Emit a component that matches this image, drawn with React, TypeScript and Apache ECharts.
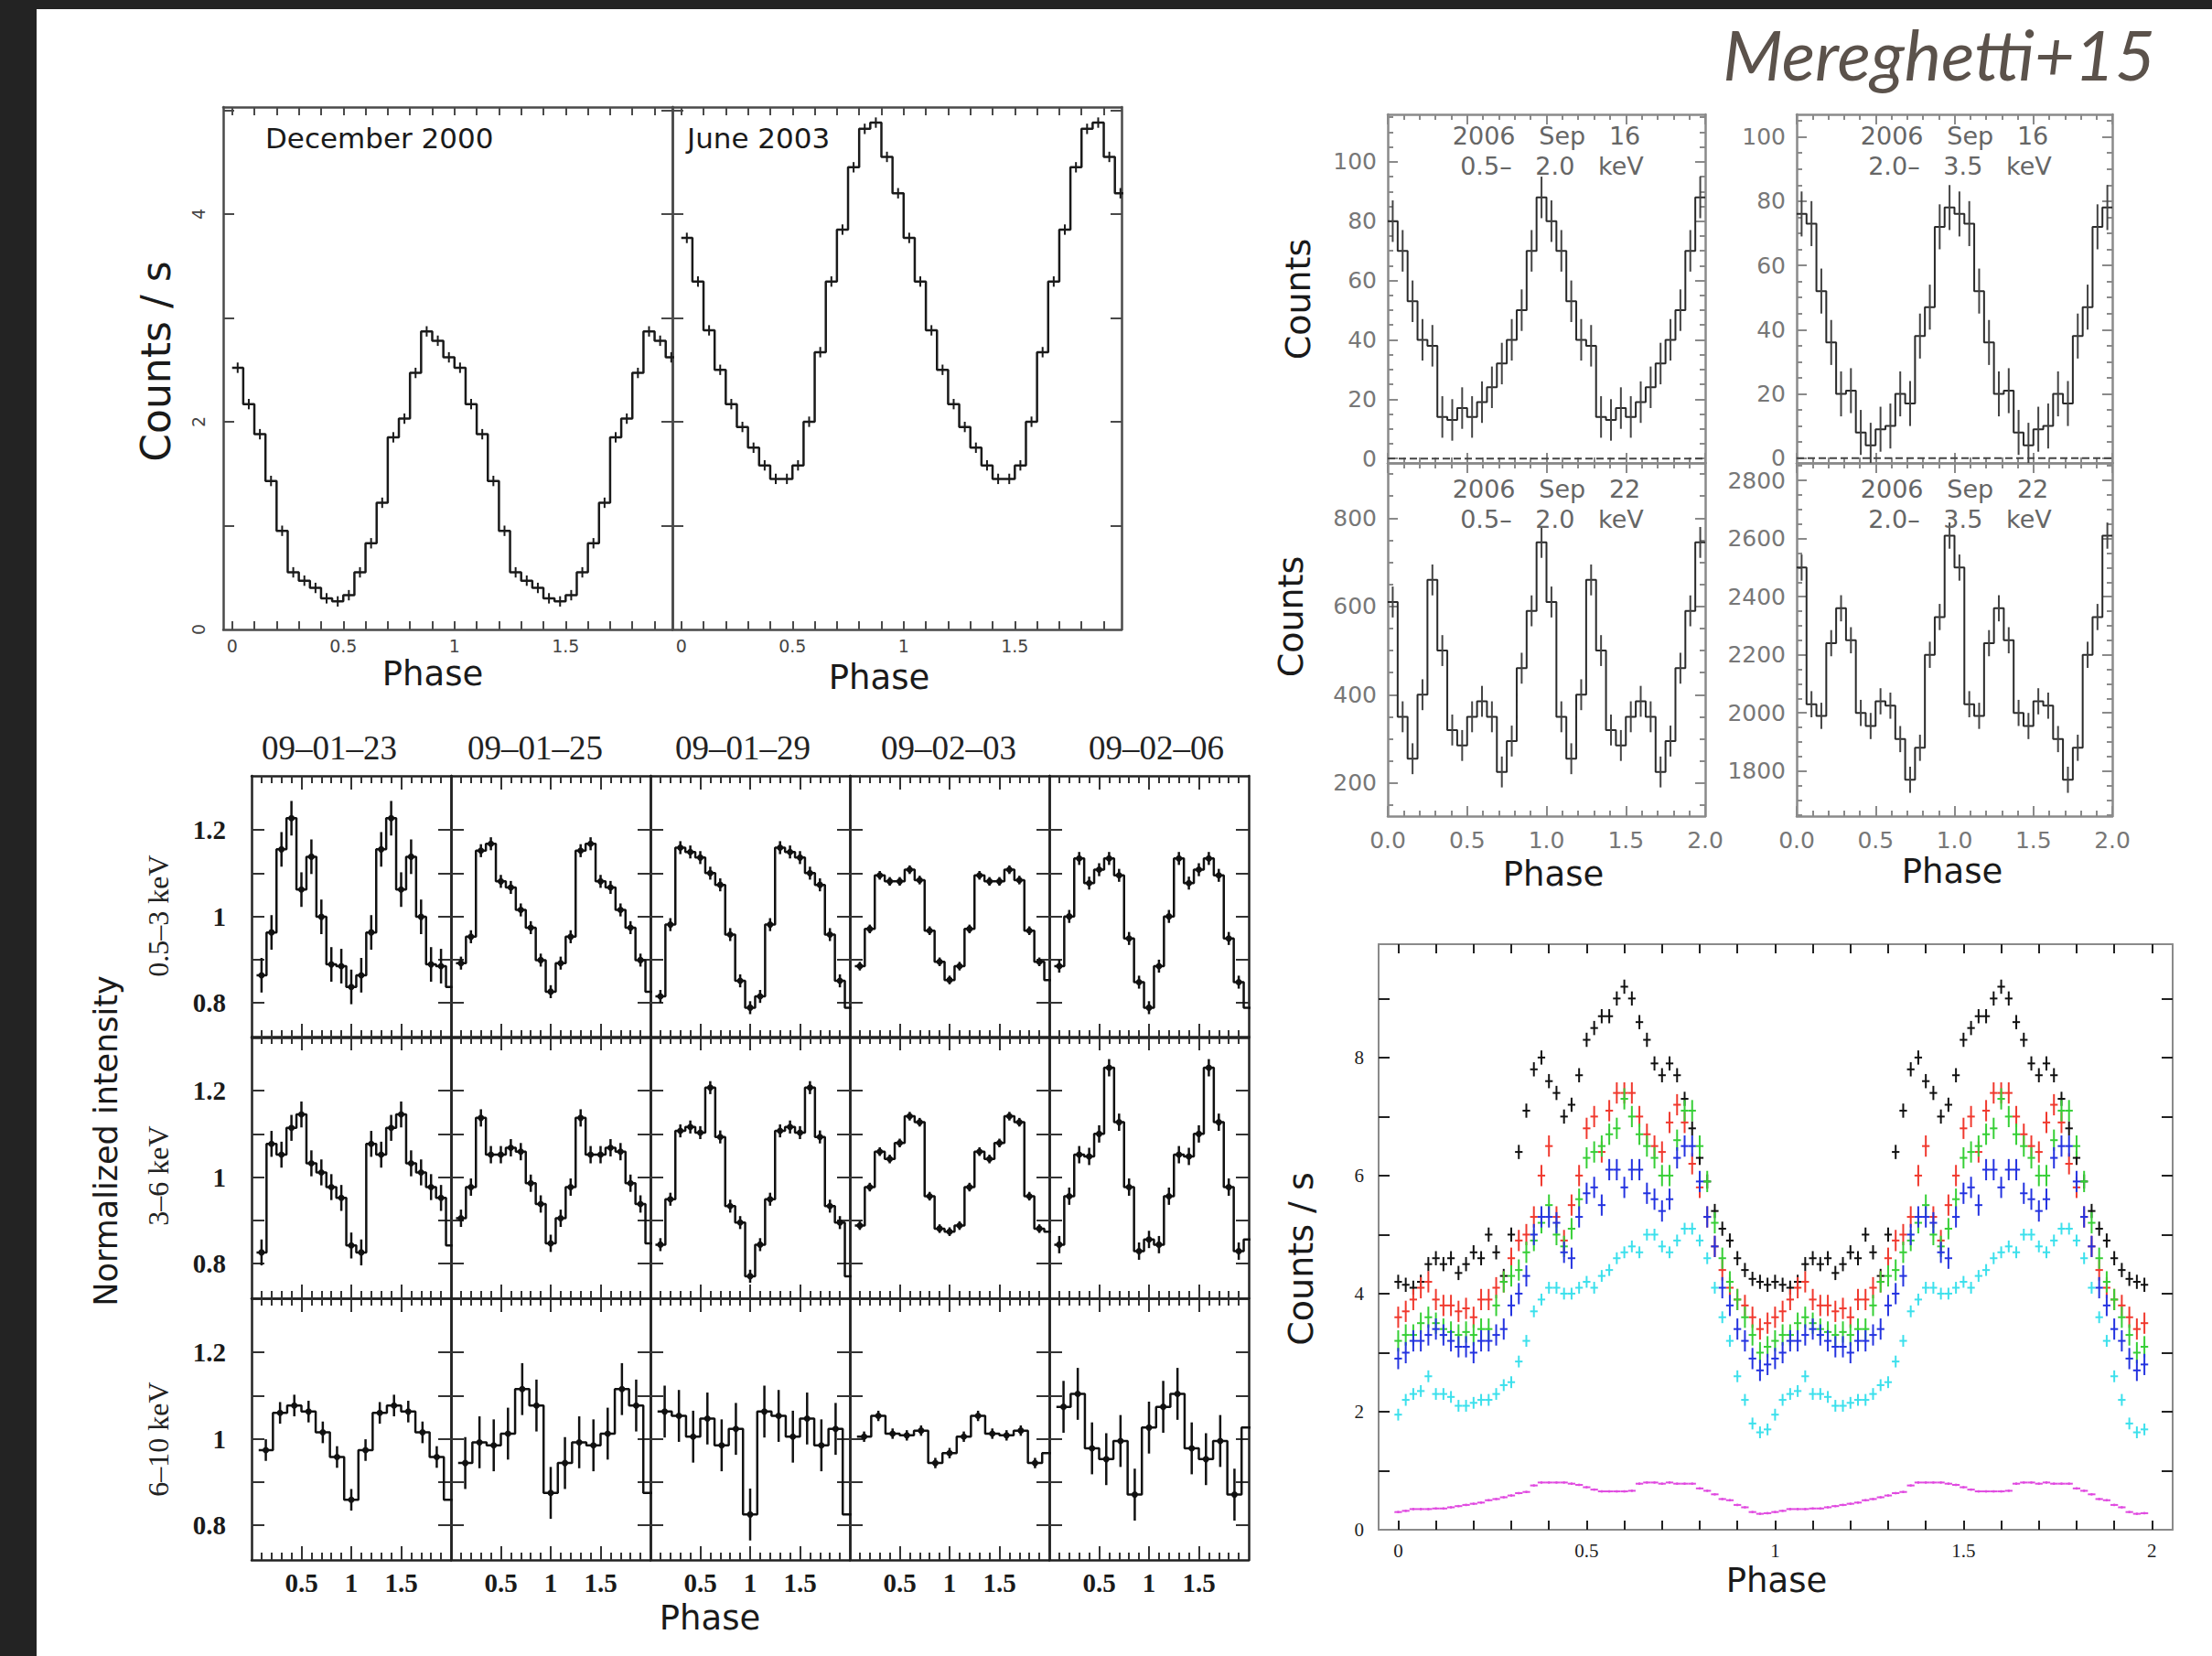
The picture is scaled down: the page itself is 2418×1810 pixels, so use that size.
import { useEffect, useRef } from 'react';
import * as echarts from 'echarts';

const W = 2418;
const H = 1810;

// ---------------- top-left: count rate, 20 phase bins per cycle (shown twice) ----------------
const dec2000Rate = [2.52, 2.17, 1.88, 1.43, 0.95, 0.55, 0.47, 0.40, 0.30, 0.27, 0.33, 0.55, 0.83, 1.22, 1.85, 2.03, 2.47, 2.87, 2.78, 2.62];
const jun2003Rate = [3.77, 3.35, 2.88, 2.50, 2.17, 1.95, 1.75, 1.58, 1.45, 1.45, 1.58, 2.00, 2.67, 3.35, 3.85, 4.45, 4.82, 4.88, 4.55, 4.20];
const topLeftErr = [0.05, 0.05];
const topLeftTitles = ['December 2000', 'June 2003'];
const topLeftPhaseLabels = [0, 0.5, 1, 1.5];
const topLeftRateLabels = [0, 2, 4];

// ---------------- top-right: counts, 16 phase bins per cycle ----------------
const sep16Soft = [80, 70, 53, 40, 38, 14, 13, 17, 14, 19, 24, 32, 40, 50, 70, 88];
const sep16Hard = [76, 73, 52, 36, 20, 21, 8, 4, 9, 10, 20, 17, 38, 47, 72, 78];
const sep22Soft = [610, 350, 255, 400, 660, 500, 320, 285, 350, 385, 350, 225, 295, 460, 590, 745];
const sep22Hard = [2500, 2030, 1990, 2240, 2360, 2250, 2000, 1955, 2040, 2025, 1910, 1770, 1880, 2200, 2330, 2610];
const topRightErr = [7, 7, 35, 45];
const topRightBackground = [0, 0];
const topRightTitles = [
  ['2006   Sep   16', '0.5–   2.0   keV'],
  ['2006   Sep   16', '2.0–   3.5   keV'],
  ['2006   Sep   22', '0.5–   2.0   keV'],
  ['2006   Sep   22', '2.0–   3.5   keV'],
];
const topRightPhaseLabels = [0, 0.5, 1, 1.5, 2];
const sep16SoftTicks = [0, 20, 40, 60, 80, 100];
const sep16HardTicks = [0, 20, 40, 60, 80, 100];
const sep22SoftTicks = [200, 400, 600, 800];
const sep22HardTicks = [1800, 2000, 2200, 2400, 2600, 2800];

// ---------------- bottom-left: normalized intensity ----------------
const gridDates = ['09–01–23', '09–01–25', '09–01–29', '09–02–03', '09–02–06'];
const gridBands = ['0.5–3 keV', '3–6 keV', '6–10 keV'];
// 0.5-3 keV, 10 bins per cycle (centres 0.1 ... 1.0)
const soft0123 = [0.864, 0.963, 1.155, 1.227, 1.062, 1.138, 0.999, 0.889, 0.885, 0.837];
const soft0125 = [0.892, 0.953, 1.152, 1.168, 1.081, 1.067, 1.015, 0.974, 0.899, 0.826];
const soft0129 = [0.815, 0.981, 1.159, 1.149, 1.136, 1.100, 1.073, 0.958, 0.851, 0.789];
const soft0203 = [0.885, 0.971, 1.095, 1.081, 1.081, 1.108, 1.084, 0.967, 0.895, 0.853];
const soft0206 = [0.885, 1.000, 1.134, 1.077, 1.108, 1.134, 1.095, 0.949, 0.848, 0.789];
// 3-6 keV, 10 bins per cycle
const mid0123 = [0.826, 1.077, 1.052, 1.114, 1.145, 1.032, 1.011, 0.977, 0.952, 0.842];
const mid0125 = [0.905, 0.977, 1.137, 1.052, 1.052, 1.068, 1.059, 0.986, 0.938, 0.847];
const mid0129 = [0.844, 0.949, 1.107, 1.116, 1.103, 1.207, 1.093, 0.933, 0.895, 0.771];
const mid0203 = [0.888, 0.977, 1.059, 1.042, 1.079, 1.141, 1.127, 0.956, 0.881, 0.874];
const mid0206 = [0.844, 0.956, 1.052, 1.048, 1.100, 1.253, 1.127, 0.977, 0.829, 0.856];
// 6-10 keV, 7 bins per cycle (centres 1/7 ... 1)
const hard0123 = [0.974, 1.060, 1.077, 1.063, 1.015, 0.958, 0.859];
const hard0125 = [0.944, 0.992, 0.985, 1.012, 1.115, 1.077, 0.875];
const hard0129 = [1.063, 1.053, 1.005, 1.047, 0.985, 1.023, 0.825];
const hard0203 = [1.005, 1.053, 1.012, 1.008, 1.019, 0.944, 0.967];
const hard0206 = [1.074, 1.104, 0.978, 0.953, 0.995, 0.871, 1.026];
const softErr = [0.04, 0.015, 0.015, 0.01, 0.015];
const midErr = [0.03, 0.02, 0.015, 0.01, 0.02];
const hardErr = [0.025, 0.06, 0.06, 0.012, 0.06];
const gridPhaseLabels = [0.5, 1, 1.5];
const gridIntensityLabels = [0.8, 1, 1.2];

// ---------------- bottom-right: count rate per band, 50 bins per cycle ----------------
const rateBlack = [4.2, 4.15, 4.1, 4.2, 4.5, 4.6, 4.5, 4.6, 4.35, 4.5,
  4.7, 4.6, 5.0, 4.7, 4.3, 5.0, 6.4, 7.1, 7.8, 8.0,
  7.6, 7.4, 7.0, 7.2, 7.7, 8.3, 8.5, 8.7, 8.7, 9.0,
  9.2, 9.0, 8.6, 8.3, 7.9, 7.7, 7.9, 7.7, 7.3, 6.8,
  6.3, 5.9, 5.4, 5.1, 4.9, 4.6, 4.4, 4.25, 4.2, 4.15];
const rateRed = [3.6, 3.7, 3.9, 4.1, 4.2, 3.9, 3.8, 3.8, 3.7, 3.75,
  3.6, 3.9, 3.9, 4.1, 4.2, 4.6, 4.9, 5.0, 5.3, 6.0,
  6.5, 5.3, 4.9, 5.5, 6.0, 6.8, 7.0, 6.4, 7.1, 7.4,
  7.4, 7.4, 7.0, 6.7, 6.5, 6.4, 6.9, 7.2, 6.9, 6.2,
  5.8, 5.3, 4.8, 4.4, 4.1, 3.9, 3.8, 3.6, 3.4, 3.5];
const rateGreen = [3.2, 3.3, 3.3, 3.5, 3.6, 3.5, 3.4, 3.35, 3.3, 3.35,
  3.3, 3.4, 3.4, 3.8, 4.2, 4.3, 4.4, 4.7, 4.9, 5.2,
  5.5, 5.0, 4.8, 5.1, 5.6, 6.3, 6.4, 6.5, 6.7, 6.8,
  7.3, 7.0, 6.7, 6.5, 6.3, 6.0, 6.0, 6.6, 7.1, 7.1,
  6.5, 5.9, 5.2, 4.6, 4.2, 3.9, 3.6, 3.3, 3.0, 3.1];
const rateBlue = [2.9, 3.0, 3.2, 3.2, 3.3, 3.4, 3.3, 3.2, 3.1, 3.1,
  3.0, 3.2, 3.2, 3.3, 3.4, 3.8, 4.0, 4.3, 5.0, 5.3,
  5.3, 5.2, 4.7, 4.6, 5.3, 5.7, 5.8, 5.5, 6.1, 6.1,
  5.8, 6.1, 6.1, 5.7, 5.6, 5.4, 5.6, 6.3, 6.5, 6.5,
  5.9, 5.3, 4.8, 4.1, 3.8, 3.4, 3.2, 2.9, 2.7, 2.8];
const rateCyan = [1.95, 2.2, 2.3, 2.35, 2.6, 2.3, 2.3, 2.25, 2.1, 2.1,
  2.15, 2.2, 2.2, 2.3, 2.45, 2.5, 2.85, 3.2, 3.7, 3.9,
  4.1, 4.1, 4.0, 4.0, 4.1, 4.2, 4.1, 4.3, 4.4, 4.6,
  4.7, 4.8, 4.7, 5.0, 5.0, 4.8, 4.7, 4.9, 5.1, 5.1,
  4.9, 4.6, 4.1, 3.6, 3.2, 2.6, 2.2, 1.8, 1.65, 1.7];
const rateMagenta = [0.3, 0.32, 0.35, 0.35, 0.35, 0.36, 0.36, 0.38, 0.4, 0.42,
  0.44, 0.46, 0.5, 0.52, 0.55, 0.58, 0.62, 0.64, 0.75, 0.8,
  0.8, 0.8, 0.8, 0.78, 0.76, 0.72, 0.68, 0.65, 0.65, 0.65,
  0.65, 0.66, 0.78, 0.8, 0.8, 0.78, 0.8, 0.78, 0.78, 0.78,
  0.7, 0.66, 0.6, 0.52, 0.5, 0.42, 0.38, 0.3, 0.27, 0.28];
const rateErr = [0.12, 0.18, 0.18, 0.18, 0.1, 0.02];
const rateColors = ['#111111', '#f0392e', '#36cf36', '#2433e0', '#3ce0ec', '#e04ae0'];
const ratePhaseLabels = [0, 0.5, 1, 1.5, 2];
const rateLabels = [0, 2, 4, 6, 8];

// ---------------- helpers ----------------
function seq(from: number, to: number, step: number): number[] {
  const out: number[] = [];
  const n = Math.round((to - from) / step);
  for (let i = 0; i <= n; i++) out.push(+(from + i * step).toFixed(6));
  return out;
}

function stepPoints(values: number[], start: number, width: number, cycles: number) {
  const pts: number[][] = [];
  for (let c = 0; c < cycles; c++) {
    values.forEach((v, k) => {
      const a = start + c + k * width;
      pts.push([a, v], [a + width, v]);
    });
  }
  return pts;
}

function errPoints(values: number[], err: number, start: number, width: number, cycles: number, xmax: number) {
  const pts: number[][] = [];
  for (let c = 0; c < cycles; c++) {
    values.forEach((v, k) => {
      const x = start + c + k * width + width / 2;
      if (x < xmax) pts.push([x, v, err]);
    });
  }
  return pts;
}

type TickSpec = {
  min: number; max: number;
  major: number[]; majorLen: number;
  minor?: number[]; minorLen?: number;
  labels?: number[]; fmt?: (v: number) => string;
};

type PanelStyle = {
  axisColor: string; axisWidth: number; tickColor: string; tickWidth: number;
  font: any; xMargin: number; yMargin: number; yRotate?: number;
};

function buildOption() {
  const grid: any[] = [];
  const xAxis: any[] = [];
  const yAxis: any[] = [];
  const series: any[] = [];
  const graphic: any[] = [];

  const axisDef = (gi: number, position: string, s: TickSpec, st: PanelStyle, withLabels: boolean, minorLayer: boolean, isY: boolean) => {
    const def: any = {
      type: 'value', gridIndex: gi, position, min: s.min, max: s.max, scale: true,
      axisLine: { show: !minorLayer, onZero: false, lineStyle: { color: st.axisColor, width: st.axisWidth } },
      axisTick: {
        show: true, inside: true,
        length: minorLayer ? s.minorLen : s.majorLen,
        customValues: minorLayer ? s.minor : s.major,
        lineStyle: { color: st.tickColor, width: st.tickWidth },
      },
      minorTick: { show: false },
      splitLine: { show: false },
      minorSplitLine: { show: false },
      splitArea: { show: false },
      axisPointer: { show: false },
      silent: true,
      axisLabel: { show: false },
    };
    if (withLabels && s.labels) {
      def.axisLabel = {
        show: true,
        customValues: s.labels,
        formatter: s.fmt || ((v: number) => String(v)),
        margin: isY ? st.yMargin : st.xMargin,
        rotate: isY ? (st.yRotate || 0) : 0,
        ...st.font,
      };
    }
    return def;
  };

  const panel = (rect: any, xs: TickSpec, ys: TickSpec, st: PanelStyle, showX: boolean, showY: boolean) => {
    const gi = grid.length;
    grid.push({ left: rect.left, top: rect.top, width: rect.width, height: rect.height, containLabel: false, show: false });
    const xi = xAxis.length;
    xAxis.push(axisDef(gi, 'bottom', xs, st, showX, false, false));
    xAxis.push(axisDef(gi, 'top', xs, st, false, false, false));
    if (xs.minor) {
      xAxis.push(axisDef(gi, 'bottom', xs, st, false, true, false));
      xAxis.push(axisDef(gi, 'top', xs, st, false, true, false));
    }
    const yi = yAxis.length;
    yAxis.push(axisDef(gi, 'left', ys, st, showY, false, true));
    yAxis.push(axisDef(gi, 'right', ys, st, false, false, true));
    if (ys.minor) {
      yAxis.push(axisDef(gi, 'left', ys, st, false, true, true));
      yAxis.push(axisDef(gi, 'right', ys, st, false, true, true));
    }
    return { xi, yi };
  };

  const stepSeries = (ax: any, data: number[][], color: string, width: number, dashed = false) => ({
    type: 'line', xAxisIndex: ax.xi, yAxisIndex: ax.yi, data, showSymbol: false, symbol: 'none',
    lineStyle: { color, width, type: dashed ? 'dashed' : 'solid' }, silent: true, clip: true, z: 3,
  });

  const errSeries = (ax: any, pts: number[][], color: string, lw: number, halfW: number, dotR: number) => ({
    type: 'custom', xAxisIndex: ax.xi, yAxisIndex: ax.yi, data: pts, clip: true, silent: true, z: 4,
    encode: { x: 0, y: 1 },
    renderItem: (_p: any, api: any) => {
      const x = api.value(0);
      const y = api.value(1);
      const e = api.value(2);
      const p0 = api.coord([x, y - e]);
      const p1 = api.coord([x, y + e]);
      const children: any[] = [
        { type: 'line', shape: { x1: p0[0], y1: p0[1], x2: p1[0], y2: p1[1] }, style: { stroke: color, lineWidth: lw } },
      ];
      if (halfW > 0) {
        const a = api.coord([x - halfW, y]);
        const b = api.coord([x + halfW, y]);
        children.push({ type: 'line', shape: { x1: a[0], y1: a[1], x2: b[0], y2: b[1] }, style: { stroke: color, lineWidth: lw } });
      }
      if (dotR > 0) {
        const c = api.coord([x, y]);
        children.push({ type: 'circle', shape: { cx: c[0], cy: c[1], r: dotR }, style: { fill: color } });
      }
      return { type: 'group', children };
    },
  });

  const text = (t: string, x: number, y: number, opts: any = {}) => ({
    type: 'text', x, y, rotation: opts.rotate ? Math.PI / 2 : 0, z: 50, silent: true,
    style: {
      text: t,
      fontSize: opts.size || 38,
      fontFamily: opts.family || 'DejaVu Sans',
      fontStyle: opts.italic ? 'italic' : 'normal',
      fontWeight: opts.weight || 'normal',
      fill: opts.color || '#1a1a1a',
      textAlign: opts.align || 'center',
      textVerticalAlign: 'middle',
    },
  });

  // ===== top-left =====
  const tlStyle: PanelStyle = {
    axisColor: '#4a4a4a', axisWidth: 2.5, tickColor: '#4a4a4a', tickWidth: 2,
    font: { fontSize: 19, fontFamily: 'DejaVu Sans', color: '#444' }, xMargin: 8, yMargin: 18, yRotate: 90,
  };
  const tlX: TickSpec = { min: -0.04, max: 1.98, major: seq(0, 1.9, 0.1), majorLen: 9, labels: topLeftPhaseLabels };
  const tlY: TickSpec = { min: 0, max: 5.03, major: seq(1, 5, 1), majorLen: 12, labels: topLeftRateLabels };
  const tlRects = [
    { left: 244, top: 117, width: 491, height: 571 },
    { left: 735, top: 117, width: 491, height: 571 },
  ];
  const tlData = [dec2000Rate, jun2003Rate];
  tlRects.forEach((r, i) => {
    const ax = panel(r, tlX, tlY, tlStyle, true, i === 0);
    series.push(stepSeries(ax, stepPoints(tlData[i], 0, 0.05, 2), '#1a1a1a', 2.5));
    series.push(errSeries(ax, errPoints(tlData[i], topLeftErr[i], 0, 0.05, 2, 1.98), '#1a1a1a', 2, 0, 0));
  });
  graphic.push(text(topLeftTitles[0], 290, 151, { size: 31, align: 'left' }));
  graphic.push(text(topLeftTitles[1], 751, 151, { size: 31, align: 'left' }));
  graphic.push(text('Counts / s', 170, 395, { size: 44, rotate: true }));
  graphic.push(text('Phase', 473, 736, { size: 37 }));
  graphic.push(text('Phase', 961, 740, { size: 37 }));

  // ===== top-right =====
  const trStyle: PanelStyle = {
    axisColor: '#8a8a8a', axisWidth: 2.5, tickColor: '#8a8a8a', tickWidth: 2,
    font: { fontSize: 25, fontFamily: 'DejaVu Sans', color: '#777' }, xMargin: 14, yMargin: 12,
  };
  const trX: TickSpec = {
    min: 0, max: 2, major: seq(0, 2, 0.5), majorLen: 11, minor: seq(0.1, 1.9, 0.1), minorLen: 6,
    labels: topRightPhaseLabels, fmt: (v: number) => v.toFixed(1),
  };
  const trYs: TickSpec[] = [
    { min: -1.5, max: 116, major: sep16SoftTicks, majorLen: 11, minor: seq(5, 115, 5), minorLen: 6, labels: sep16SoftTicks },
    { min: -1.5, max: 107, major: sep16HardTicks, majorLen: 11, minor: seq(5, 105, 5), minorLen: 6, labels: sep16HardTicks },
    { min: 125, max: 925, major: sep22SoftTicks, majorLen: 11, minor: seq(150, 900, 50), minorLen: 6, labels: sep22SoftTicks },
    { min: 1645, max: 2860, major: sep22HardTicks, majorLen: 11, minor: seq(1650, 2850, 50), minorLen: 6, labels: sep22HardTicks },
  ];
  const trRects = [
    { left: 1517, top: 125, width: 347, height: 381 },
    { left: 1964, top: 125, width: 345, height: 381 },
    { left: 1517, top: 506, width: 347, height: 386 },
    { left: 1964, top: 506, width: 345, height: 386 },
  ];
  const trData = [sep16Soft, sep16Hard, sep22Soft, sep22Hard];
  trRects.forEach((r, i) => {
    const ax = panel(r, trX, trYs[i], trStyle, i >= 2, true);
    if (i < 2) {
      series.push(stepSeries(ax, [[0, topRightBackground[i]], [2, topRightBackground[i]]], '#444', 2, true));
    }
    series.push(stepSeries(ax, stepPoints(trData[i], 0, 1 / 16, 2), '#2a2a2a', 2));
    series.push(errSeries(ax, errPoints(trData[i], topRightErr[i], 0, 1 / 16, 2, 2), '#444', 2, 0, 0));
    const cx = r.left + r.width / 2;
    const y1 = i < 2 ? 148 : 534;
    graphic.push(text(topRightTitles[i][0], cx, y1, { size: 27, color: '#666' }));
    graphic.push(text(topRightTitles[i][1], cx + 6, y1 + 33, { size: 27, color: '#666' }));
  });
  graphic.push(text('Counts', 1419, 327, { size: 38, rotate: true }));
  graphic.push(text('Counts', 1411, 674, { size: 38, rotate: true }));
  graphic.push(text('Phase', 1698, 955, { size: 37 }));
  graphic.push(text('Phase', 2134, 952, { size: 37 }));

  // ===== bottom-left grid =====
  const blStyle: PanelStyle = {
    axisColor: '#222', axisWidth: 2.5, tickColor: '#333', tickWidth: 2,
    font: { fontSize: 29, fontFamily: 'Liberation Serif', fontWeight: 'bold', color: '#1a1a1a' }, xMargin: 10, yMargin: 28,
  };
  const blX: TickSpec = {
    min: 0, max: 2, major: gridPhaseLabels, majorLen: 15, minor: [0.1, 0.2, 0.3, 0.4, 0.6, 0.7, 0.8, 0.9, 1.1, 1.2, 1.3, 1.4, 1.6, 1.7, 1.8, 1.9], minorLen: 8,
    labels: gridPhaseLabels,
  };
  const blY: TickSpec = { min: 0.72, max: 1.325, major: seq(0.8, 1.2, 0.1), majorLen: 14, labels: gridIntensityLabels };
  const colLefts = [275, 493, 711, 929, 1147];
  const rowTops = [848, 1133, 1419];
  const bandData = [
    [soft0123, soft0125, soft0129, soft0203, soft0206],
    [mid0123, mid0125, mid0129, mid0203, mid0206],
    [hard0123, hard0125, hard0129, hard0203, hard0206],
  ];
  const bandErr = [softErr, midErr, hardErr];
  rowTops.forEach((top, row) => {
    colLefts.forEach((left, col) => {
      const ax = panel({ left, top, width: 218, height: 286 }, blX, blY, blStyle, row === 2, col === 0);
      const vals = bandData[row][col];
      const width = row === 2 ? 1 / 7 : 0.1;
      const start = width / 2;
      series.push(stepSeries(ax, stepPoints(vals, start, width, 2), '#111', 2.5));
      series.push(errSeries(ax, errPoints(vals, bandErr[row][col], start, width, 2, 1.99), '#111', 2.5, 0, 3.5));
    });
  });
  const dateX = [360, 585, 812, 1037, 1264];
  gridDates.forEach((d, i) => graphic.push(text(d, dateX[i], 817, { size: 37, family: 'Liberation Serif', color: '#222' })));
  const bandY = [1001, 1285, 1573];
  gridBands.forEach((b, i) => graphic.push(text(b, 173, bandY[i], { size: 32, family: 'Liberation Serif', color: '#222', rotate: true })));
  graphic.push(text('Normalized intensity', 116, 1247, { size: 35, rotate: true }));
  graphic.push(text('Phase', 776, 1768, { size: 37 }));

  // ===== bottom-right =====
  const brStyle: PanelStyle = {
    axisColor: '#8a8a8a', axisWidth: 2, tickColor: '#222', tickWidth: 2,
    font: { fontSize: 21, fontFamily: 'Liberation Serif', color: '#222' }, xMargin: 12, yMargin: 16,
  };
  const brX: TickSpec = { min: -0.052, max: 2.055, major: seq(0, 2, 0.1), majorLen: 10, labels: ratePhaseLabels };
  const brY: TickSpec = { min: 0, max: 9.92, major: seq(1, 9, 1), majorLen: 12, labels: rateLabels };
  const brAx = panel({ left: 1507, top: 1032, width: 868, height: 640 }, brX, brY, brStyle, true, true);
  const rates = [rateBlack, rateRed, rateGreen, rateBlue, rateCyan, rateMagenta];
  rates.forEach((vals, i) => {
    series.push(errSeries(brAx, errPoints(vals, rateErr[i], -0.01, 0.02, 2, 2.02), rateColors[i], 2, 0.01, 0));
  });
  graphic.push(text('Counts / s', 1422, 1376, { size: 38, rotate: true }));
  graphic.push(text('Phase', 1942, 1727, { size: 37 }));

  // ===== frame and title =====
  graphic.push({ type: 'rect', shape: { x: 0, y: 0, width: 40, height: H }, style: { fill: '#232323' }, z: 60, silent: true });
  graphic.push({ type: 'rect', shape: { x: 0, y: 0, width: W, height: 10 }, style: { fill: '#232323' }, z: 60, silent: true });
  graphic.push(text('Mereghetti+15', 2356, 58, { size: 76, family: 'Lato', italic: true, color: '#5b524b', align: 'right' }));

  return {
    animation: false,
    backgroundColor: '#ffffff',
    grid, xAxis, yAxis, series, graphic,
  };
}

export default function App() {
  const ref = useRef<HTMLDivElement>(null);
  useEffect(() => {
    if (!ref.current) return;
    const chart = echarts.init(ref.current, null, { renderer: 'svg', width: W, height: H });
    chart.setOption(buildOption() as any);
    return () => chart.dispose();
  }, []);
  return <div ref={ref} style={{ position: 'absolute', left: 0, top: 0, width: W, height: H, background: '#fff' }} />;
}
